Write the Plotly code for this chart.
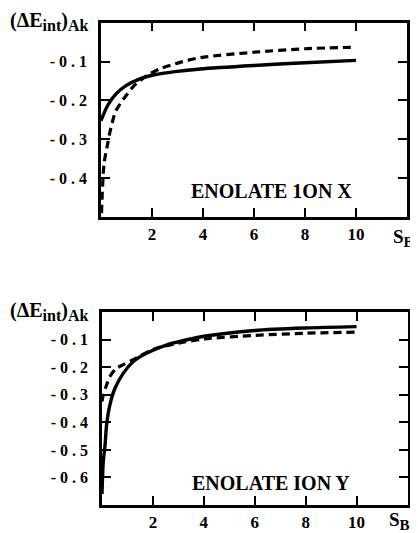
import plotly.graph_objects as go

# Page body has an 8px default margin, so the figure is drawn 8px in from the window corner.
OFF = 8
W, H = 418 - OFF, 533 - OFF

# ---- data ----
x_ticks = [2, 4, 6, 8, 10]
x_tick_text = ["2", "4", "6", "8", "10"]

top_y_ticks = [-0.1, -0.2, -0.3, -0.4]
bot_y_ticks = [-0.1, -0.2, -0.3, -0.4, -0.5, -0.6]

top_solid_x = [0.0, 0.26, 0.59, 0.98, 1.5, 2.1, 2.9, 3.9, 6, 8, 10]
top_solid_y = [-0.252, -0.213, -0.183, -0.162, -0.145, -0.134, -0.126, -0.119, -0.110, -0.103, -0.097]

top_dash_x = [0.02, 0.12, 0.26, 0.39, 0.59, 0.98, 1.3, 1.8, 2.3, 3.1, 3.9, 6, 8, 10]
top_dash_y = [-0.49, -0.363, -0.312, -0.27, -0.226, -0.188, -0.162, -0.136, -0.119, -0.102, -0.090, -0.076, -0.067, -0.063]

bot_solid_x = [0.0, 0.05, 0.12, 0.18, 0.31, 0.51, 0.84, 1.23, 1.76, 2.55, 3.47, 4, 6, 8, 10]
bot_solid_y = [-0.66, -0.543, -0.482, -0.409, -0.336, -0.276, -0.221, -0.179, -0.148, -0.118, -0.097, -0.087, -0.066, -0.057, -0.052]

bot_dash_x = [0.0, 0.05, 0.18, 0.31, 0.55, 0.84, 1.23, 2, 3, 4, 6, 8, 10]
bot_dash_y = [-0.324, -0.300, -0.264, -0.233, -0.205, -0.190, -0.172, -0.135, -0.112, -0.097, -0.084, -0.076, -0.072]

panel_labels = ["ENOLATE 1ON X", "ENOLATE ION Y"]
y_title = ("(ΔE<sub><span style='font-size:16px'>int</span></sub>)"
           "<sub><span style='font-size:16px'>Ak</span></sub>")
x_title = "S<sub><span style='font-size:15px'>B</span></sub>"


def spaced(v):
    return " ".join(f"{v:.1f}")


def px_x(p):
    return (p - OFF) / W


def px_y(p):
    return 1 - (p - OFF) / H


FONT = "Liberation Serif"

fig = go.Figure()

line_solid = dict(color="black", width=3.4, shape="spline", smoothing=0.8)
line_dash = dict(color="black", width=3.2, dash="8px,5px", shape="spline", smoothing=0.8)

fig.add_trace(go.Scatter(x=top_solid_x, y=top_solid_y, mode="lines", line=line_solid,
                         xaxis="x", yaxis="y", showlegend=False))
fig.add_trace(go.Scatter(x=top_dash_x, y=top_dash_y, mode="lines", line=line_dash,
                         xaxis="x", yaxis="y", showlegend=False))
fig.add_trace(go.Scatter(x=bot_solid_x, y=bot_solid_y, mode="lines", line=line_solid,
                         xaxis="x2", yaxis="y2", showlegend=False))
fig.add_trace(go.Scatter(x=bot_dash_x, y=bot_dash_y, mode="lines", line=line_dash,
                         xaxis="x2", yaxis="y2", showlegend=False))

common_axis = dict(showline=True, linecolor="black", linewidth=2.5, mirror="ticks",
                   ticks="inside", ticklen=9, tickwidth=2.2, tickcolor="black",
                   showgrid=False, zeroline=False)

xfont = dict(family=FONT, size=17, color="black", weight="bold")
yfont = dict(family=FONT, size=16, color="black", weight="bold")

fig.update_layout(
    width=W, height=H,
    margin=dict(l=0, r=0, t=0, b=0),
    paper_bgcolor="white", plot_bgcolor="white",
    font=dict(family=FONT, color="black"),
    xaxis=dict(domain=[px_x(101), px_x(407)], range=[0, 12], tickvals=x_ticks,
               ticktext=x_tick_text, anchor="y", tickfont=xfont,
               ticklabelstandoff=0, **common_axis),
    yaxis=dict(domain=[px_y(217), px_y(22.7)], range=[-0.5, 0], tickvals=top_y_ticks,
               ticktext=[spaced(v) for v in top_y_ticks], anchor="x", tickfont=yfont,
               ticklabelstandoff=8, **common_axis),
    xaxis2=dict(domain=[px_x(102), px_x(407.5)], range=[0, 12], tickvals=x_ticks,
                ticktext=x_tick_text, anchor="y2", tickfont=xfont,
                ticklabelstandoff=0, **common_axis),
    yaxis2=dict(domain=[px_y(505), px_y(312.3)], range=[-0.7, 0], tickvals=bot_y_ticks,
                ticktext=[spaced(v) for v in bot_y_ticks], anchor="x2", tickfont=yfont,
                ticklabelstandoff=8, **common_axis),
)

ann_font = dict(family=FONT, size=20, color="black", weight="bold")
lab_font = dict(family=FONT, size=20, color="black", weight="bold")
sb_font = dict(family=FONT, size=19, color="black", weight="bold")
annotations = [
    dict(text=panel_labels[0], x=px_x(271), y=px_y(191), xref="paper", yref="paper",
         xanchor="center", yanchor="middle", showarrow=False, font=lab_font),
    dict(text=panel_labels[1], x=px_x(271), y=px_y(483), xref="paper", yref="paper",
         xanchor="center", yanchor="middle", showarrow=False, font=lab_font),
    dict(text=y_title, x=px_x(8), y=px_y(21), xref="paper", yref="paper",
         xanchor="left", yanchor="middle", showarrow=False, font=ann_font),
    dict(text=y_title, x=px_x(8), y=px_y(311), xref="paper", yref="paper",
         xanchor="left", yanchor="middle", showarrow=False, font=ann_font),
    dict(text=x_title, x=px_x(391), y=px_y(238), xref="paper", yref="paper",
         xanchor="left", yanchor="middle", showarrow=False, font=sb_font),
    dict(text=x_title, x=px_x(387), y=px_y(521), xref="paper", yref="paper",
         xanchor="left", yanchor="middle", showarrow=False, font=sb_font),
]
fig.update_layout(annotations=annotations)

fig.write_html("out.html")
